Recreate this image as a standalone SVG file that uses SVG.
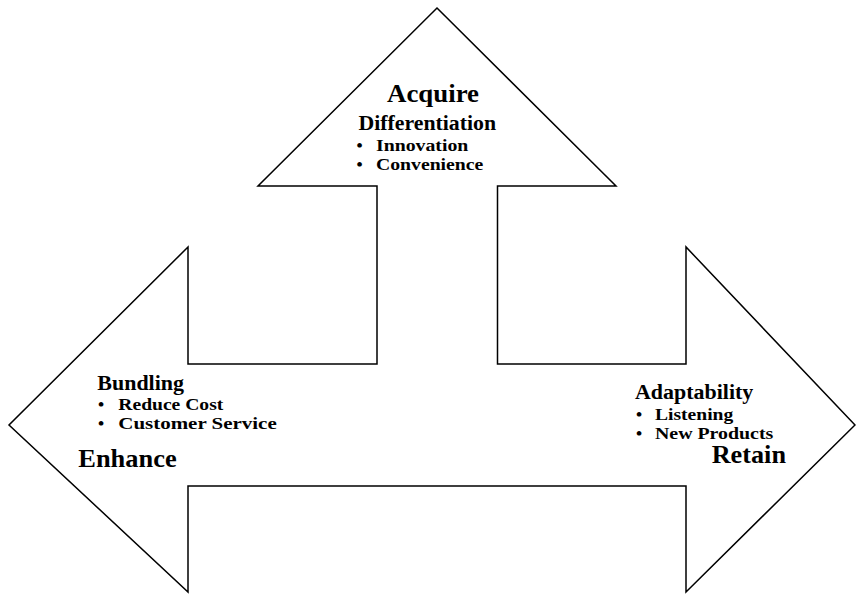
<svg xmlns="http://www.w3.org/2000/svg" width="856" height="603" viewBox="0 0 856 603">
<style>
.shape{fill:#fff;stroke:#000;stroke-width:1.5;stroke-linejoin:miter}
text{font-family:"Liberation Serif","Times New Roman",serif;font-weight:bold;fill:#000}
.h{font-size:25.5px}
.s{font-size:20.5px}
.b{font-size:17.5px}
</style>
<rect width="856" height="603" fill="#fff"/>
<g id="arrows">
<path class="shape" d="M437,8 L616,186 L497.5,186 L497.5,364 L686,364 L686,247 L855,425 L686,592 L686,486 L188,486 L188,592 L9,425 L188,247 L188,364 L377,364 L377,186 L258,186 Z"/>
</g>
<g id="acquire">
<text class="h" x="387" y="101.5" textLength="92" lengthAdjust="spacingAndGlyphs">Acquire</text>
<text class="s" x="358.5" y="129.5" textLength="137.5" lengthAdjust="spacingAndGlyphs">Differentiation</text>
<text class="b" x="356.5" y="150.5">•<tspan x="376" textLength="92.3" lengthAdjust="spacingAndGlyphs">Innovation</tspan></text>
<text class="b" x="356.5" y="170">•<tspan x="376" textLength="107.3" lengthAdjust="spacingAndGlyphs">Convenience</tspan></text>
</g>
<g id="enhance">
<text class="s" x="97.3" y="390" textLength="86.7" lengthAdjust="spacingAndGlyphs">Bundling</text>
<text class="b" x="98" y="410">•<tspan x="118.3" textLength="105" lengthAdjust="spacingAndGlyphs">Reduce Cost</tspan></text>
<text class="b" x="98" y="429">•<tspan x="118.3" textLength="158.4" lengthAdjust="spacingAndGlyphs">Customer Service</tspan></text>
<text class="h" x="78.3" y="466.7" textLength="98.4" lengthAdjust="spacingAndGlyphs">Enhance</text>
</g>
<g id="retain">
<text class="s" x="635" y="398.5" textLength="118.3" lengthAdjust="spacingAndGlyphs">Adaptability</text>
<text class="b" x="636" y="420">•<tspan x="655" textLength="78.3" lengthAdjust="spacingAndGlyphs">Listening</tspan></text>
<text class="b" x="636" y="439">•<tspan x="655" textLength="118.3" lengthAdjust="spacingAndGlyphs">New Products</tspan></text>
<text class="h" x="711.7" y="463.3" textLength="74.3" lengthAdjust="spacingAndGlyphs">Retain</text>
</g>
</svg>
